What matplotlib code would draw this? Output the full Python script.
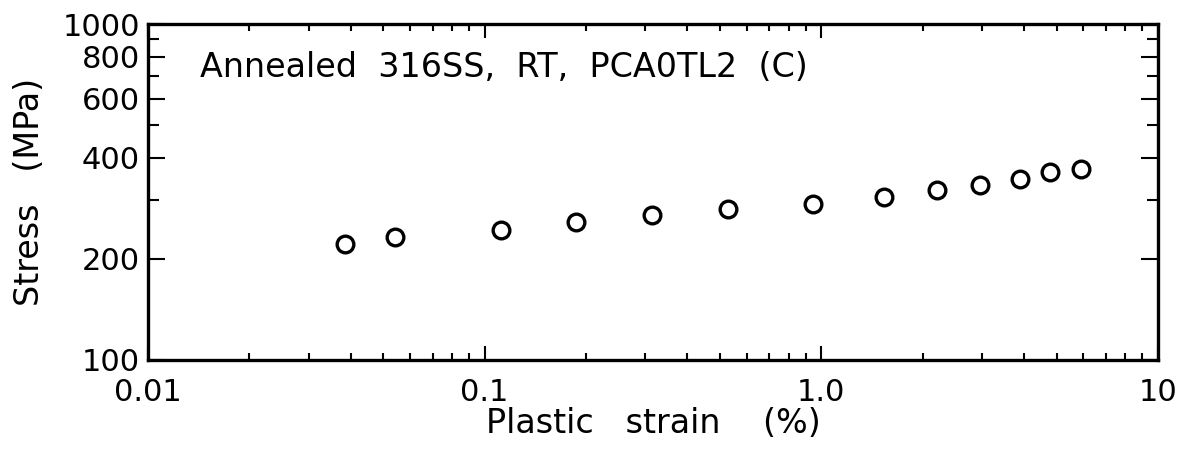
import numpy as np
import matplotlib
matplotlib.use('Agg')
import matplotlib.pyplot as plt
from matplotlib.ticker import FixedLocator, FixedFormatter, NullFormatter

# data
strain = [0.0385, 0.054, 0.112, 0.187, 0.315, 0.527, 0.946, 1.54, 2.20, 2.96, 3.89, 4.78, 5.93]
stress = [221, 233, 243, 258, 270, 281, 291, 305, 321, 332, 346, 362, 369]

xticks = [0.01, 0.1, 1.0, 10]
xticklabels = ['0.01', '0.1', '1.0', '10']
yticks = [100, 200, 400, 600, 800, 1000]
yticklabels = ['100', '200', '400', '600', '800', '1000']

plt.rcParams['font.family'] = ['DejaVu Sans']

fig = plt.figure(figsize=(11.9, 4.53), dpi=100)
ax = fig.add_axes([0.1244, 0.2053, 0.8486, 0.7417])

ax.plot(strain, stress, 'o', markersize=12, markerfacecolor='none',
        markeredgecolor='black', markeredgewidth=2.4)

ax.set_xscale('log')
ax.set_yscale('log')
ax.set_xlim(0.01, 10)
ax.set_ylim(100, 1000)

ax.xaxis.set_major_locator(FixedLocator(xticks))
ax.xaxis.set_major_formatter(FixedFormatter(xticklabels))
ax.xaxis.set_minor_locator(FixedLocator([m * d for d in [0.01, 0.1, 1.0] for m in range(2, 10)]))
ax.xaxis.set_minor_formatter(NullFormatter())

ax.yaxis.set_major_locator(FixedLocator(yticks))
ax.yaxis.set_major_formatter(FixedFormatter(yticklabels))
ax.yaxis.set_minor_locator(FixedLocator([300, 500, 700, 900]))
ax.yaxis.set_minor_formatter(NullFormatter())

ax.tick_params(which='both', direction='in', top=True, right=True, width=1.5, labelsize=22)
ax.tick_params(axis='x', which='major', length=10)
ax.tick_params(axis='x', which='minor', length=5)
ax.tick_params(axis='y', which='major', length=12)
ax.tick_params(axis='y', which='minor', length=8)
ax.tick_params(axis='x', pad=13)
ax.tick_params(axis='y', pad=6)

for s in ax.spines.values():
    s.set_linewidth(2.4)

ax.set_xlabel('Plastic   strain    (%)', fontsize=24, labelpad=0)
ax.set_ylabel('Stress   (MPa)', fontsize=24, labelpad=12)

ax.text(0.051, 0.87, 'Annealed  316SS,  RT,  PCA0TL2  (C)', transform=ax.transAxes,
        fontsize=24, va='center', ha='left')

fig.savefig('out.png', dpi=100)
